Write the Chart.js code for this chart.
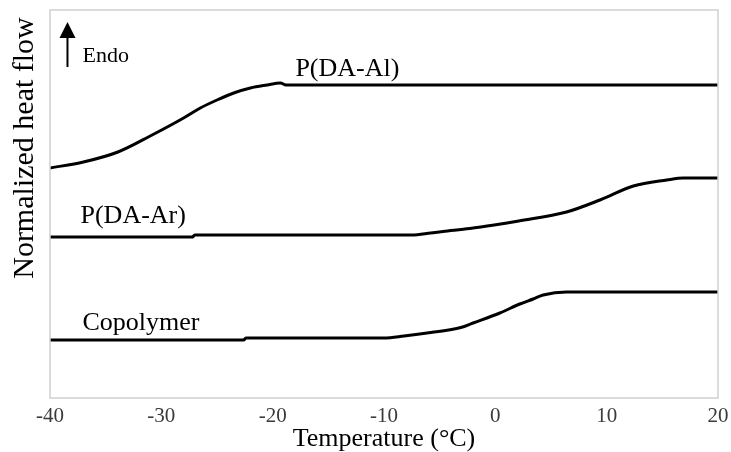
<!DOCTYPE html>
<html>
<head>
<meta charset="utf-8">
<script src="https://cdn.jsdelivr.net/npm/chart.js@4"></script>
<style>
  html, body { margin: 0; padding: 0; background: #fff; }
  #wrap { width: 731px; height: 452px; }
</style>
</head>
<body>
<div id="wrap"><canvas id="dscChart"></canvas></div>
<script>
// Temperature (°C) and normalized heat flow (arbitrary units)
var alTemp = [-40, -37, -33.9, -31, -28, -26.5, -25, -23.5, -22, -20.5, -19.3, -18.8, 20];
var alFlow = [230, 236, 246, 262, 280, 290, 298, 305, 310, 313, 315, 313, 313];

var arTemp = [-40, -27.2, -27, -7.5, -5.8, -4.7, -2.3, -0.1, 2.1, 6.4, 9.4, 12.4, 15.4, 16.9, 20];
var arFlow = [161, 161, 163, 163, 165, 166.5, 169.5, 173, 177, 186, 198, 212, 218, 220, 220];

var coTemp = [-40, -22.6, -22.4, -10, -8.2, -5.8, -3.1, -2, 0.4, 2.2, 3.4, 4.3, 6.4, 20];
var coFlow = [58, 58, 60, 60, 62, 65.5, 70.5, 75, 85, 94, 99, 103, 106, 106];

var xTicks = [-40, -30, -20, -10, 0, 10, 20];

var serif = "'Liberation Serif', 'Times New Roman', serif";

function toPoints(xs, ys) {
    return xs.map(function(x, i) { return { x: x, y: ys[i] }; });
}

function curve(label, xs, ys) {
    return {
        label: label,
        data: toPoints(xs, ys),
        borderColor: '#000',
        borderWidth: 3,
        pointRadius: 0,
        fill: false,
        cubicInterpolationMode: 'monotone'
    };
}

// box, y title, arrow and curve labels
var decorations = {
    id: 'decorations',
    afterDraw: function(chart) {
        var ctx = chart.ctx;
        var a = chart.chartArea;
        var xs = chart.scales.x, ys = chart.scales.y;
        ctx.save();

        ctx.strokeStyle = '#d0d0d0';
        ctx.lineWidth = 1.5;
        ctx.strokeRect(a.left, a.top, a.right - a.left, a.bottom - a.top);

        ctx.fillStyle = '#000';
        ctx.font = '30px ' + serif;
        ctx.textAlign = 'center';
        ctx.textBaseline = 'alphabetic';
        ctx.save();
        ctx.translate(33, 148);
        ctx.rotate(-Math.PI / 2);
        ctx.fillText('Normalized heat flow', 0, 0);
        ctx.restore();

        // endotherm arrow
        var ax = xs.getPixelForValue(-38.43);
        var tip = ys.getPixelForValue(376);
        var tail = ys.getPixelForValue(331);
        ctx.strokeStyle = '#000';
        ctx.lineWidth = 2;
        ctx.beginPath();
        ctx.moveTo(ax, tail);
        ctx.lineTo(ax, tip + 14);
        ctx.stroke();
        ctx.beginPath();
        ctx.moveTo(ax, tip);
        ctx.lineTo(ax - 8, tip + 16);
        ctx.lineTo(ax + 8, tip + 16);
        ctx.closePath();
        ctx.fill();

        ctx.textAlign = 'left';
        ctx.font = '22px ' + serif;
        ctx.fillText('Endo', xs.getPixelForValue(-37.08), ys.getPixelForValue(336));

        ctx.font = '26px ' + serif;
        ctx.fillText('P(DA-Al)', xs.getPixelForValue(-17.96), ys.getPixelForValue(322));
        ctx.fillText('P(DA-Ar)', xs.getPixelForValue(-37.26), ys.getPixelForValue(175));
        ctx.fillText('Copolymer', xs.getPixelForValue(-37.08), ys.getPixelForValue(68));
        ctx.restore();
    }
};

var chart = new Chart(document.getElementById('dscChart'), {
    type: 'line',
    data: {
        datasets: [
            curve('P(DA-Al)', alTemp, alFlow),
            curve('P(DA-Ar)', arTemp, arFlow),
            curve('Copolymer', coTemp, coFlow)
        ]
    },
    options: {
        responsive: true,
        maintainAspectRatio: false,
        animation: false,
        layout: { padding: { left: 50, right: 13, top: 10, bottom: 0 } },
        plugins: { legend: { display: false }, tooltip: { enabled: false } },
        scales: {
            x: {
                type: 'linear',
                min: -40,
                max: 20,
                grid: { display: false, drawTicks: false },
                border: { display: false },
                afterBuildTicks: function(axis) {
                    axis.ticks = xTicks.map(function(v) { return { value: v }; });
                },
                afterFit: function(axis) {
                    // pin the plot box to where it sits in the original
                    axis.height = 54;
                    axis.paddingLeft = 0;
                    axis.paddingRight = 0;
                },
                ticks: {
                    padding: 8,
                    color: '#3a3a3a',
                    maxRotation: 0,
                    font: { family: serif, size: 21, lineHeight: 1 }
                },
                title: {
                    display: true,
                    text: 'Temperature (°C)',
                    color: '#000',
                    padding: { top: 2, bottom: 0 },
                    font: { family: serif, size: 26, lineHeight: 1 }
                }
            },
            y: {
                display: false,
                min: 0,
                max: 388
            }
        }
    },
    plugins: [decorations]
});
</script>
</body>
</html>
